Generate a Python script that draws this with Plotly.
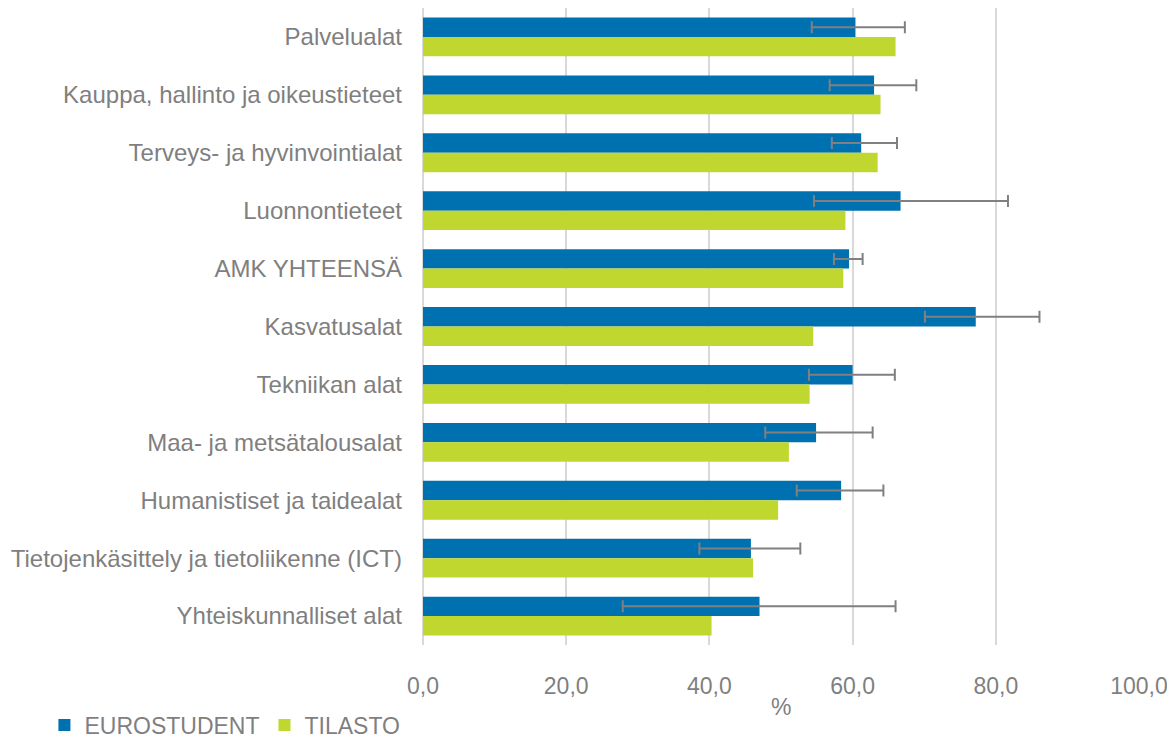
import plotly.graph_objects as go

categories = [
    "Palvelualat",
    "Kauppa, hallinto ja oikeustieteet",
    "Terveys- ja hyvinvointialat",
    "Luonnontieteet",
    "AMK YHTEENSÄ",
    "Kasvatusalat",
    "Tekniikan alat",
    "Maa- ja metsätalousalat",
    "Humanistiset ja taidealat",
    "Tietojenkäsittely ja tietoliikenne (ICT)",
    "Yhteiskunnalliset alat",
]
eurostudent = [60.4, 63.0, 61.2, 66.7, 59.5, 77.2, 60.0, 54.9, 58.4, 45.8, 47.0]
err_low = [54.3, 56.8, 57.1, 54.6, 57.4, 70.1, 53.9, 47.8, 52.2, 38.6, 27.9]
err_high = [67.3, 68.9, 66.2, 81.7, 61.4, 86.1, 65.9, 62.8, 64.3, 52.7, 66.0]
tilasto = [66.0, 63.9, 63.5, 59.0, 58.7, 54.5, 54.0, 51.1, 49.6, 46.1, 40.3]
x_ticks = [0, 20, 40, 60, 80, 100]

plus = [h - v for h, v in zip(err_high, eurostudent)]
minus = [v - l for l, v in zip(err_low, eurostudent)]

GREY = "#7F7F7F"

fig = go.Figure()
fig.add_trace(go.Bar(
    name="EUROSTUDENT", y=categories, x=eurostudent, orientation="h",
    marker=dict(color="#0071B0", line=dict(width=0)),
    error_x=dict(type="data", symmetric=False, array=plus, arrayminus=minus,
                 color="#808080", thickness=2, width=6),
))
fig.add_trace(go.Bar(
    name="TILASTO", y=categories, x=tilasto, orientation="h",
    marker=dict(color="#BFD72F", line=dict(width=0)),
))

fig.update_layout(
    width=1175, height=737,
    margin=dict(l=415, r=44, t=0, b=100, autoexpand=False),
    barmode="group", bargap=0.33, bargroupgap=0,
    plot_bgcolor="white", paper_bgcolor="white",
    separators=",.",
    font=dict(family="Liberation Sans, Arial, sans-serif", size=23, color=GREY),
    showlegend=True,
    legend=dict(orientation="h", xref="container", yref="container",
                x=0.031, xanchor="left", y=0.027, yanchor="middle",
                font=dict(size=23, color=GREY), itemwidth=30,
                traceorder="normal"),
    xaxis=dict(range=[0, 100], tickvals=x_ticks, tickformat=".1f",
               showgrid=True, gridcolor="#D9D9D9", gridwidth=1.5,
               zeroline=True, zerolinecolor="#D9D9D9", zerolinewidth=1.5,
               ticks="", ticklabelstandoff=25, automargin=False,
               tickfont=dict(size=23, color=GREY)),
    yaxis=dict(autorange="reversed", ticks="", ticklabelstandoff=20, automargin=False,
               tickfont=dict(size=24, color=GREY)),
    annotations=[dict(text="%", xref="x domain", yref="paper", x=0.5, y=0,
                      yshift=-62, showarrow=False, xanchor="center", yanchor="middle",
                      font=dict(size=23, color=GREY))],
)

fig.write_html("out.html")
